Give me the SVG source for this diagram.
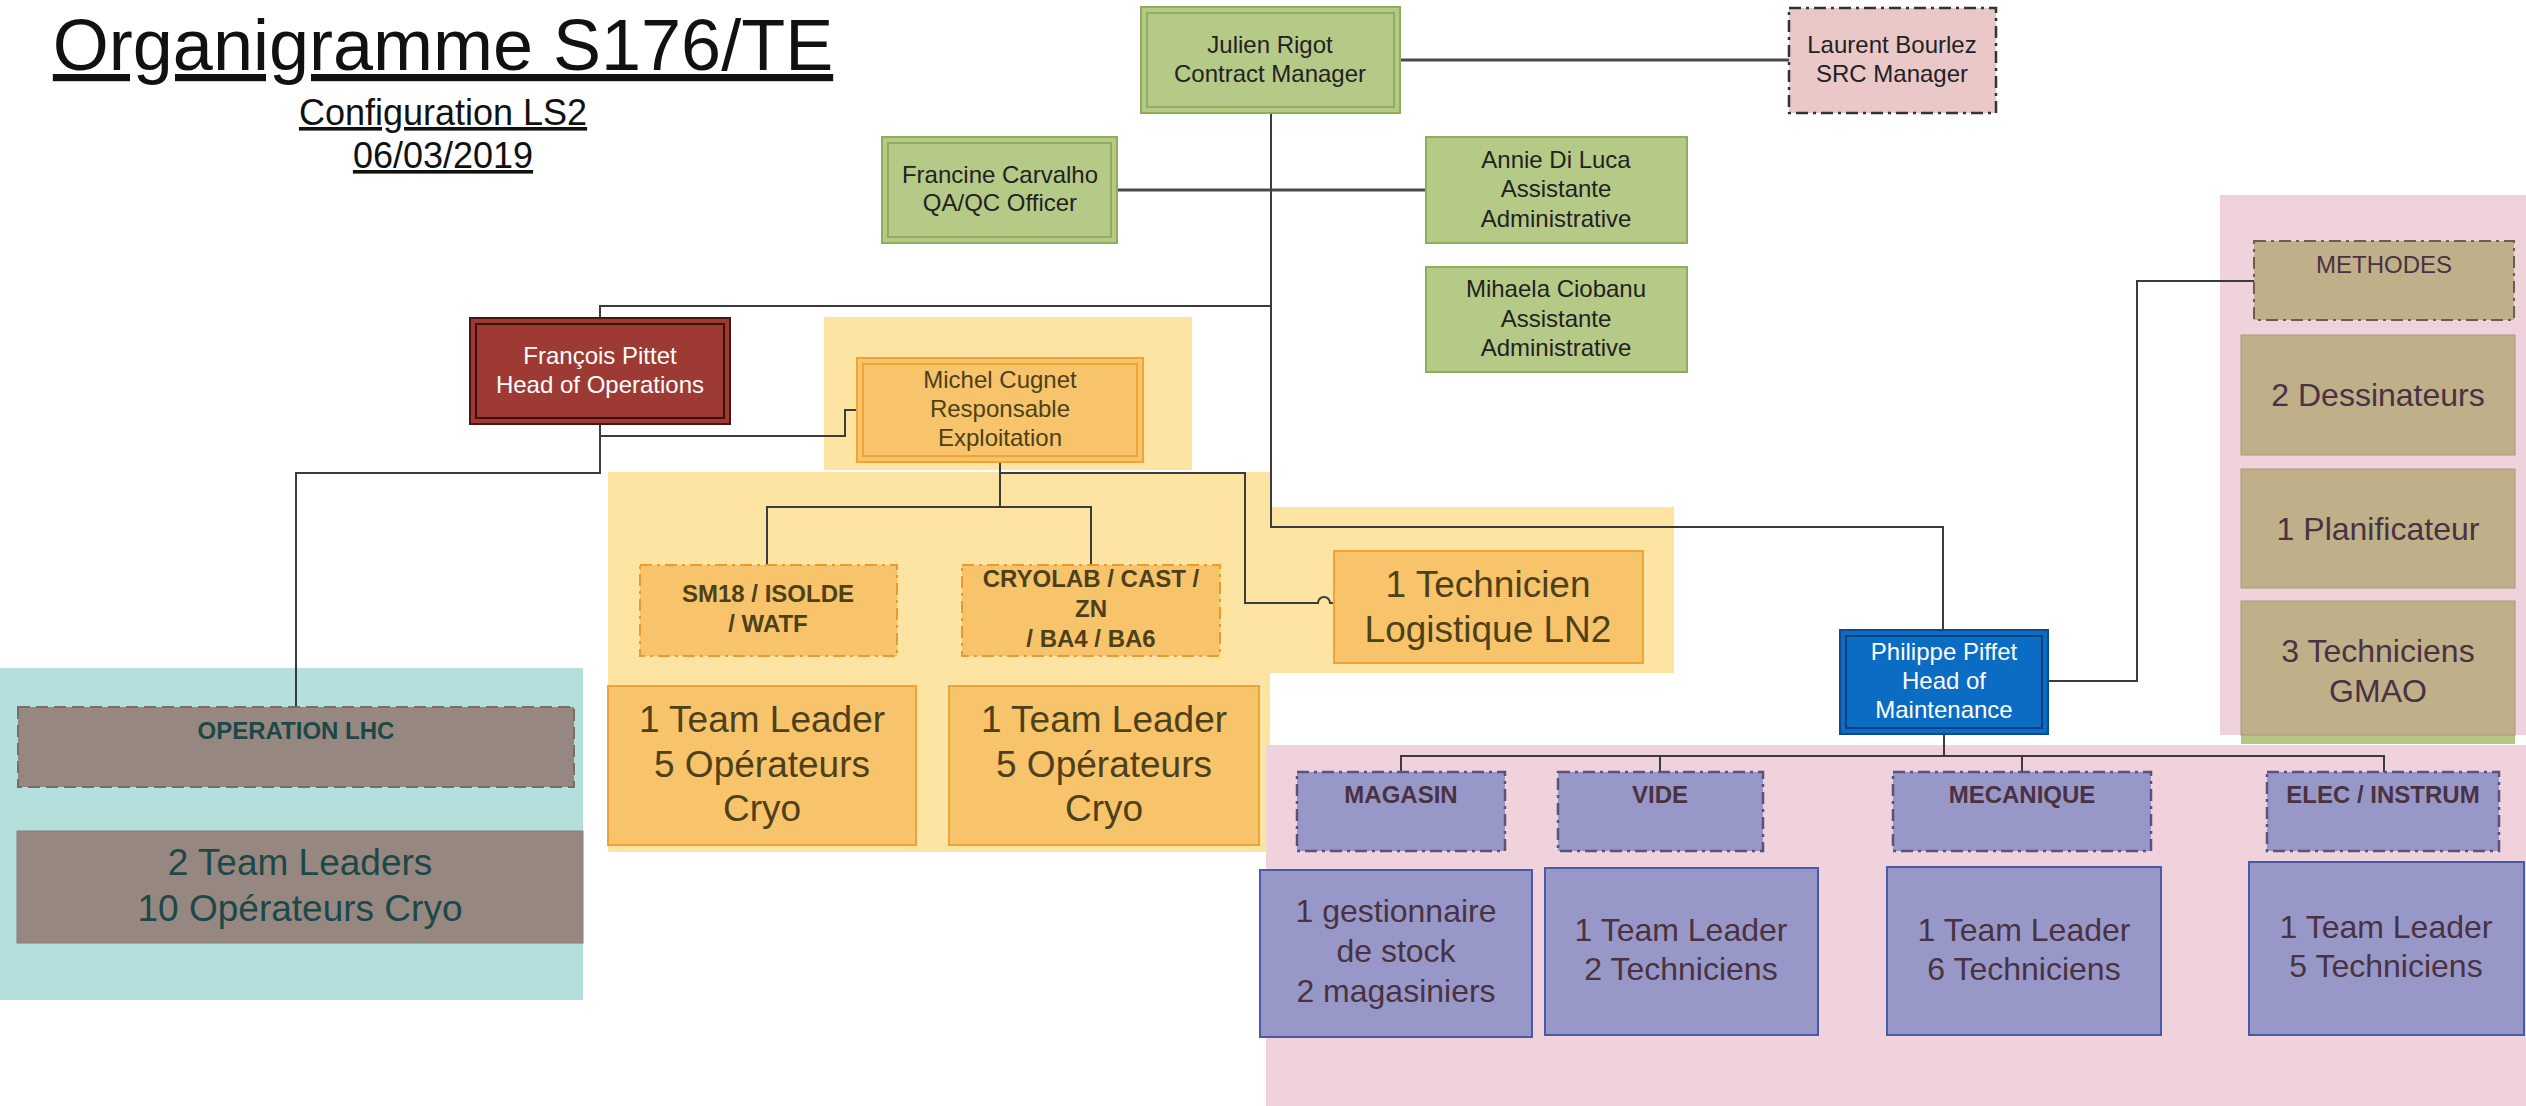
<svg xmlns="http://www.w3.org/2000/svg" width="2526" height="1106" viewBox="0 0 2526 1106">
<defs>
<style>
text{font-family:"Liberation Sans",Arial,sans-serif;text-anchor:middle}
.t24{font-size:24px}
.b24{font-size:24px;font-weight:bold}
.t32{font-size:32px}
.t37{font-size:37px}
.dk{fill:#222}
.wh{fill:#fff}
.or{fill:#4e4018}
.tl{fill:#1d4848}
.pl{fill:#4a3242}
.conn{fill:none;stroke:#3c3c3c;stroke-width:2}
.conn3{fill:none;stroke:#4a4a4a;stroke-width:3}
.green{fill:#b6ca87;stroke:#8fae5a;stroke-width:2}
.inG{fill:none;stroke:#8fae5a;stroke-width:2}
.red{fill:#9d3a34;stroke:#4a1512;stroke-width:2}
.inR{fill:none;stroke:#3d100e;stroke-width:2}
.org{fill:#f7c46c;stroke:#f0a437;stroke-width:2}
.inO{fill:none;stroke:#f0a437;stroke-width:2}
.orgD{fill:#f7c46c;stroke:#ec9a2e;stroke-width:2;stroke-dasharray:12 5 3 5}
.blue{fill:#0a6cc2;stroke:#0b4a8c;stroke-width:2}
.inB{fill:none;stroke:#0b3f7a;stroke-width:2}
.pinkN{fill:#ebc8c8;stroke:#333;stroke-width:2.5;stroke-dasharray:12 5 3 5}
.grayD{fill:#968780;stroke:#7a6b66;stroke-width:2;stroke-dasharray:12 6}
.gray{fill:#968780;stroke:#8a7c76;stroke-width:1}
.khD{fill:#bfb08a;stroke:#6a5e48;stroke-width:2;stroke-dasharray:12 5 3 5}
.kh{fill:#bfb08a;stroke:#a89a78;stroke-width:1}
.puD{fill:#9898c8;stroke:#5a5278;stroke-width:2.5;stroke-dasharray:12 5 3 5}
.pu{fill:#9898c8;stroke:#4a5aa8;stroke-width:2}
</style>
</defs>
<rect width="2526" height="1106" fill="#fff"/>

<g id="title">
<text x="443" y="70" font-size="72" fill="#111" text-decoration="underline">Organigramme S176/TE</text>
<text x="443" y="125" font-size="36" fill="#111" text-decoration="underline">Configuration LS2</text>
<text x="443" y="168" font-size="36" fill="#111" text-decoration="underline">06/03/2019</text>
</g>

<g id="regions">
<rect x="824" y="317" width="368" height="153" fill="#fde4a2"/>
<rect x="608" y="472" width="662" height="380" fill="#fde4a2"/>
<rect x="1268" y="507" width="406" height="166" fill="#fde4a2"/>
<rect x="0" y="668" width="583" height="332" fill="#b3dfdc"/>
<rect x="2220" y="195" width="306" height="540" fill="#efd2dc"/>
<rect x="1266" y="745" width="1260" height="361" fill="#efd2dc"/>
</g>

<g id="connectors">
<path class="conn3" d="M1400,60 H1789"/>
<path class="conn3" d="M1117,190 H1426"/>
<path class="conn" d="M1271,113 V527 H1943 V630"/>
<path class="conn" d="M1271,306 H600 V318"/>
<path class="conn" d="M600,424 V436 H845 V410 H857"/>
<path class="conn" d="M600,424 V473 H296 V707"/>
<path class="conn" d="M1000,462 V507"/>
<path class="conn" d="M767,565 V507 H1091 V565"/>
<path class="conn" d="M1000,473 H1245 V603 H1318 a6,6 0 0 1 12,0 H1334"/>
<path class="conn" d="M2048,681 H2137 V281 H2254"/>
<path class="conn" d="M1944,734 V756"/>
<path class="conn" d="M1401,772 V756 H2384 V772"/>
<path class="conn" d="M1660,756 V772"/>
<path class="conn" d="M2022,756 V772"/>
</g>

<g id="julien">
<rect class="green" x="1141" y="7" width="259" height="106"/>
<rect class="inG" x="1147" y="13" width="247" height="94"/>
<text class="t24 dk" x="1270" y="53">Julien Rigot</text>
<text class="t24 dk" x="1270" y="82">Contract Manager</text>
</g>

<g id="laurent">
<rect class="pinkN" x="1789" y="8" width="207" height="105"/>
<text class="t24 dk" x="1892" y="53">Laurent Bourlez</text>
<text class="t24 dk" x="1892" y="82">SRC Manager</text>
</g>

<g id="francine">
<rect class="green" x="882" y="137" width="235" height="106"/>
<rect class="inG" x="888" y="143" width="223" height="94"/>
<text class="t24 dk" x="1000" y="183">Francine Carvalho</text>
<text class="t24 dk" x="1000" y="211">QA/QC Officer</text>
</g>

<g id="annie">
<rect class="green" x="1426" y="137" width="261" height="106"/>
<text class="t24 dk" x="1556" y="168">Annie Di Luca</text>
<text class="t24 dk" x="1556" y="197">Assistante</text>
<text class="t24 dk" x="1556" y="227">Administrative</text>
</g>

<g id="mihaela">
<rect class="green" x="1426" y="267" width="261" height="105"/>
<text class="t24 dk" x="1556" y="297">Mihaela Ciobanu</text>
<text class="t24 dk" x="1556" y="327">Assistante</text>
<text class="t24 dk" x="1556" y="356">Administrative</text>
</g>

<g id="francois">
<rect class="red" x="470" y="318" width="260" height="106"/>
<rect class="inR" x="476" y="324" width="248" height="94"/>
<text class="t24 wh" x="600" y="364">François Pittet</text>
<text class="t24 wh" x="600" y="393">Head of Operations</text>
</g>

<g id="michel">
<rect class="org" x="857" y="358" width="286" height="104"/>
<rect class="inO" x="863" y="364" width="274" height="92"/>
<text class="t24 or" x="1000" y="388">Michel Cugnet</text>
<text class="t24 or" x="1000" y="417">Responsable</text>
<text class="t24 or" x="1000" y="446">Exploitation</text>
</g>

<g id="sm18">
<rect class="orgD" x="640" y="565" width="257" height="91"/>
<text class="b24 or" x="768" y="602">SM18 / ISOLDE</text>
<text class="b24 or" x="768" y="632">/ WATF</text>
</g>

<g id="cryolab">
<rect class="orgD" x="962" y="565" width="258" height="91"/>
<text class="b24 or" x="1091" y="587">CRYOLAB / CAST /</text>
<text class="b24 or" x="1091" y="617">ZN</text>
<text class="b24 or" x="1091" y="647">/ BA4 / BA6</text>
</g>

<g id="technicien">
<rect class="org" x="1334" y="551" width="309" height="112"/>
<text class="t37 or" x="1488" y="597">1 Technicien</text>
<text class="t37 or" x="1488" y="642">Logistique LN2</text>
</g>

<g id="team-sm18">
<rect class="org" x="608" y="686" width="308" height="159"/>
<text class="t37 or" x="762" y="732">1 Team Leader</text>
<text class="t37 or" x="762" y="777">5 Opérateurs</text>
<text class="t37 or" x="762" y="821">Cryo</text>
</g>

<g id="team-cryolab">
<rect class="org" x="949" y="686" width="310" height="159"/>
<text class="t37 or" x="1104" y="732">1 Team Leader</text>
<text class="t37 or" x="1104" y="777">5 Opérateurs</text>
<text class="t37 or" x="1104" y="821">Cryo</text>
</g>

<g id="operation-lhc">
<rect class="grayD" x="18" y="707" width="556" height="80"/>
<text class="b24 tl" x="296" y="739">OPERATION LHC</text>
</g>

<g id="team-lhc">
<rect class="gray" x="17" y="831" width="566" height="112"/>
<text class="t37 tl" x="300" y="875">2 Team Leaders</text>
<text class="t37 tl" x="300" y="921">10 Opérateurs Cryo</text>
</g>

<g id="methodes">
<rect class="khD" x="2254" y="241" width="260" height="79"/>
<text class="t24 pl" x="2384" y="273">METHODES</text>
</g>

<g id="dessinateurs">
<rect class="kh" x="2241" y="335" width="274" height="120"/>
<text class="t32 pl" x="2378" y="406">2 Dessinateurs</text>
</g>

<g id="planificateur">
<rect class="kh" x="2241" y="469" width="274" height="119"/>
<text class="t32 pl" x="2378" y="540">1 Planificateur</text>
</g>

<g id="gmao">
<rect x="2241" y="735" width="274" height="9" fill="#b3c981"/>
<rect class="kh" x="2241" y="601" width="274" height="134"/>
<text class="t32 pl" x="2378" y="662">3 Techniciens</text>
<text class="t32 pl" x="2378" y="702">GMAO</text>
</g>

<g id="philippe">
<rect class="blue" x="1840" y="630" width="208" height="104"/>
<rect class="inB" x="1846" y="636" width="196" height="92"/>
<text class="t24 wh" x="1944" y="660">Philippe Piffet</text>
<text class="t24 wh" x="1944" y="689">Head of</text>
<text class="t24 wh" x="1944" y="718">Maintenance</text>
</g>

<g id="magasin">
<rect class="puD" x="1297" y="772" width="208" height="79"/>
<text class="b24 pl" x="1401" y="803">MAGASIN</text>
</g>
<g id="vide">
<rect class="puD" x="1558" y="772" width="205" height="79"/>
<text class="b24 pl" x="1660" y="803">VIDE</text>
</g>
<g id="mecanique">
<rect class="puD" x="1893" y="772" width="258" height="79"/>
<text class="b24 pl" x="2022" y="803">MECANIQUE</text>
</g>
<g id="elec">
<rect class="puD" x="2267" y="772" width="232" height="79"/>
<text class="b24 pl" x="2383" y="803">ELEC / INSTRUM</text>
</g>

<g id="team-magasin">
<rect class="pu" x="1260" y="870" width="272" height="167"/>
<text class="t32 pl" x="1396" y="922">1 gestionnaire</text>
<text class="t32 pl" x="1396" y="962">de stock</text>
<text class="t32 pl" x="1396" y="1002">2 magasiniers</text>
</g>
<g id="team-vide">
<rect class="pu" x="1545" y="868" width="273" height="167"/>
<text class="t32 pl" x="1681" y="941">1 Team Leader</text>
<text class="t32 pl" x="1681" y="980">2 Techniciens</text>
</g>
<g id="team-mecanique">
<rect class="pu" x="1887" y="867" width="274" height="168"/>
<text class="t32 pl" x="2024" y="941">1 Team Leader</text>
<text class="t32 pl" x="2024" y="980">6 Techniciens</text>
</g>
<g id="team-elec">
<rect class="pu" x="2249" y="862" width="275" height="173"/>
<text class="t32 pl" x="2386" y="938">1 Team Leader</text>
<text class="t32 pl" x="2386" y="977">5 Techniciens</text>
</g>
</svg>
